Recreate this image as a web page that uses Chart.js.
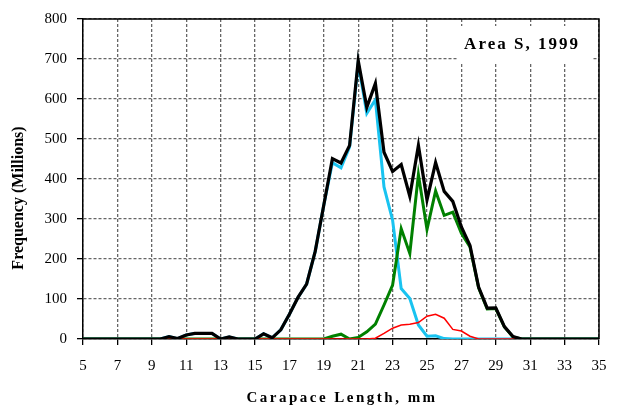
<!DOCTYPE html>
<html lang="en">
<head>
    <meta charset="UTF-8">
    <title>Area S, 1999</title>
    <script src="https://cdn.jsdelivr.net/npm/chart.js"></script>
    <style>
        html, body {
            margin: 0;
            padding: 0;
            background: #fff;
        }
        #wrap {
            width: 619px;
            height: 414px;
        }
    </style>
</head>
<body>
    <div id="wrap"><canvas id="chart"></canvas></div>

    <script>
        // carapace length classes (mm)
        const lengths = [5, 9, 9.5, 10, 10.5, 11, 11.5, 12, 12.5, 13, 13.5, 14, 14.5, 15, 15.5, 16, 16.5,
            17, 17.5, 18, 18.5, 19, 19.5, 20, 20.5, 21, 21.5, 22, 22.5, 23, 23.5, 24, 24.5, 25, 25.5,
            26, 26.5, 27, 27.5, 28, 28.5, 29, 29.5, 30, 30.5, 31, 35];

        // frequency, millions
        const total = [0, 0, 0, 6, 1, 10, 14, 14, 14, 0, 5, 0, 0, 0, 13, 3, 23,
            62, 104, 137, 219, 335, 451, 440, 484, 696, 579, 639, 467, 419, 436, 357, 484, 348, 441,
            369, 344, 280, 234, 130, 77, 78, 31, 6, 0, 0, 0];
        const blue = [0, 0, 0, 6, 1, 10, 14, 14, 14, 0, 5, 0, 0, 0, 13, 3, 23,
            62, 104, 137, 219, 335, 441, 428, 480, 690, 564, 598, 380, 297, 126, 101, 35, 7, 8,
            1, 0, 0, 0, 0, 0, 0, 0, 0, 0, 0, 0];
        const green = [0, 0, 0, 0, 0, 0, 0, 0, 0, 0, 0, 0, 0, 0, 0, 0, 0,
            0, 0, 0, 0, 0, 7, 12, 0, 4, 18, 37, 85, 135, 276, 214, 411, 274, 370,
            309, 317, 264, 230, 128, 75, 76, 30, 5, 0, 0, 0];
        const red = [0, 0, 0, 0, 0, 0, 0, 0, 0, 0, 0, 0, 0, 0, 0, 0, 0,
            0, 0, 0, 0, 0, 0, 0, 0, 0, 0, 2, 14, 27, 35, 37, 41, 57, 62,
            52, 24, 20, 7, 0, 0, 0, 0, 0, 0, 0, 0];

        const xTicks = [5, 7, 9, 11, 13, 15, 17, 19, 21, 23, 25, 27, 29, 31, 33, 35];
        const yTicks = [0, 100, 200, 300, 400, 500, 600, 700, 800];

        const serif = "'Liberation Serif', 'Times New Roman', serif";

        function pts(vals) {
            return lengths.map((x, i) => ({ x: x, y: vals[i] }));
        }

        // frame, label box and axis titles
        const extras = {
            id: 'extras',
            afterDraw(chart) {
                const ctx = chart.ctx;
                const a = chart.chartArea;
                ctx.save();
                ctx.strokeStyle = '#000';
                ctx.lineWidth = 1.5;
                ctx.beginPath();
                ctx.moveTo(a.left, a.top);
                ctx.lineTo(a.right, a.top);
                ctx.lineTo(a.right, a.bottom);
                ctx.stroke();

                // "Area S, 1999" box
                ctx.fillStyle = '#fff';
                ctx.fillRect(458, 26, 134, 37);
                ctx.fillStyle = '#000';
                ctx.font = 'bold 17px ' + serif;
                ctx.letterSpacing = '2px';
                ctx.textAlign = 'center';
                ctx.textBaseline = 'middle';
                ctx.fillText('Area S, 1999', 522, 45);

                // x title
                ctx.font = 'bold 15px ' + serif;
                ctx.letterSpacing = '2.5px';
                ctx.fillText('Carapace Length, mm', 342, 398);

                // y title
                ctx.letterSpacing = '0px';
                ctx.font = 'bold 16px ' + serif;
                ctx.translate(19, 198);
                ctx.rotate(-Math.PI / 2);
                ctx.fillText('Frequency (Millions)', 0, 0);
                ctx.restore();
            }
        };

        const ctx = document.getElementById('chart').getContext('2d');
        new Chart(ctx, {
            type: 'line',
            data: {
                datasets: [
                    { label: 'Total', data: pts(total), borderColor: '#000000', borderWidth: 3.2 },
                    { label: 'Red', data: pts(red), borderColor: '#ff0000', borderWidth: 1.5 },
                    { label: 'Green', data: pts(green), borderColor: '#008000', borderWidth: 3 },
                    { label: 'Blue', data: pts(blue), borderColor: '#19c3f0', borderWidth: 3 }
                ]
            },
            options: {
                responsive: true,
                maintainAspectRatio: false,
                animation: false,
                layout: { padding: { top: 18, right: 20, left: 0, bottom: 0 } },
                elements: {
                    point: { radius: 0 },
                    line: { tension: 0, fill: false, borderJoinStyle: 'miter' }
                },
                plugins: {
                    legend: { display: false },
                    tooltip: { enabled: false }
                },
                scales: {
                    x: {
                        type: 'linear',
                        min: 5,
                        max: 35,
                        afterFit: s => { s.height = 75; },
                        afterBuildTicks: s => { s.ticks = xTicks.map(v => ({ value: v })); },
                        ticks: {
                            color: '#000',
                            font: { family: serif, size: 15 },
                            padding: 12,
                            maxRotation: 0
                        },
                        grid: {
                            color: '#666',
                            lineWidth: 1.3,
                            tickLength: 6,
                            tickColor: '#000',
                            tickBorderDash: []
                        },
                        border: { display: true, color: '#000', width: 1.5, dash: [3, 2] }
                    },
                    y: {
                        min: 0,
                        max: 800,
                        afterFit: s => { s.width = 83; },
                        afterBuildTicks: s => { s.ticks = yTicks.map(v => ({ value: v })); },
                        ticks: {
                            color: '#000',
                            font: { family: serif, size: 15 },
                            padding: 10
                        },
                        grid: {
                            color: '#666',
                            lineWidth: 1.3,
                            tickLength: 6,
                            tickColor: '#000',
                            tickBorderDash: []
                        },
                        border: { display: true, color: '#000', width: 1.5, dash: [3, 2] }
                    }
                }
            },
            plugins: [extras]
        });
    </script>
</body>
</html>
